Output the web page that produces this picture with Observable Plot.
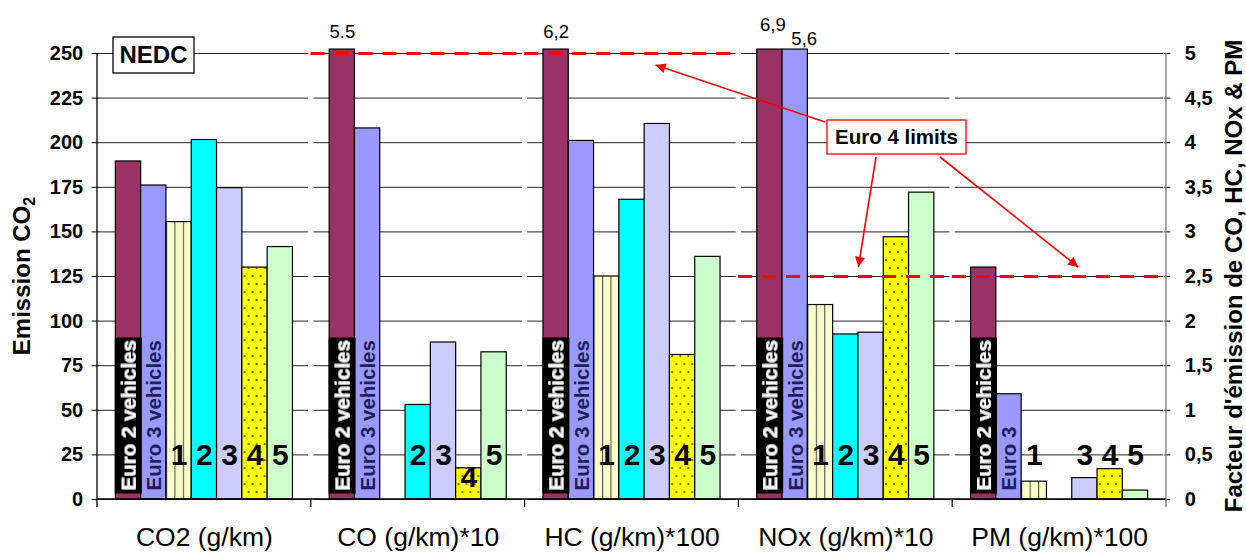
<!DOCTYPE html>
<html><head><meta charset="utf-8">
<script src="https://cdn.jsdelivr.net/npm/d3@7"></script>
<script src="https://cdn.jsdelivr.net/npm/@observablehq/plot@0.6"></script>
<style>
html,body{margin:0;padding:0;background:#fff;overflow:hidden;}
#chart svg{display:block;}
</style></head><body>
<svg width="0" height="0" style="position:absolute">
<defs>
  <pattern id="stripes" patternUnits="objectBoundingBox" patternContentUnits="objectBoundingBox" width="0.33333" height="1">
    <rect x="0" y="0" width="0.33333" height="1" fill="#FFFFCC"/>
    <rect x="0" y="0" width="0.045" height="1" fill="#555"/>
  </pattern>
  <pattern id="dots" patternUnits="userSpaceOnUse" width="8" height="16">
    <rect x="0" y="0" width="8" height="16" fill="#FFFF00"/>
    <circle cx="2" cy="4" r="0.85" fill="#000"/>
    <circle cx="6" cy="12" r="0.85" fill="#000"/>
  </pattern>
  <filter id="blackbg" x="-0.015" y="-0.06" width="1.03" height="1.12">
    <feFlood flood-color="#000"/>
    <feComposite in="SourceGraphic"/>
  </filter>
  <marker id="arrowhead" viewBox="0 0 10 10" refX="10" refY="5" markerWidth="13" markerHeight="10" markerUnits="userSpaceOnUse" orient="auto">
    <path d="M0,0L10,5L0,10z" fill="#FF0000"/>
  </marker>
</defs>
</svg>
<div id="chart"></div>
<script>
// ---------- data ----------
const groups = ["CO2 (g/km)", "CO (g/km)*10", "HC (g/km)*100", "NOx (g/km)*10", "PM (g/km)*100"];
const series = ["Euro 2 vehicles", "Euro 3 vehicles", "1", "2", "3", "4", "5"];
const seriesColors = ["#993366", "#9999FF", "url(#stripes)", "#00FFFF", "#CCCCFF", "url(#dots)", "#CCFFCC"];
// CO2 in g/km (left axis)
const co2 = [189.5, 176, 155.5, 201.5, 174.5, 130, 141.5];
// emission factors (right axis)
const co  = [5.5, 4.16, null, 1.06, 1.76, 0.35, 1.65];
const hc  = [6.2, 4.02, 2.5, 3.36, 4.21, 1.62, 2.72];
const nox = [6.9, 5.6, 2.18, 1.85, 1.87, 2.94, 3.44];
const pm  = [2.6, 1.18, 0.2, null, 0.24, 0.34, 0.1];
// off-scale value labels, in order of appearance
const offScaleText = ["5.5", "6,2", "6,9", "5,6"];
// Euro 4 limits (right axis units)
const limitGroups = ["CO (g/km)*10", "HC (g/km)*100", "NOx (g/km)*10", "PM (g/km)*100"];
const limitValues = [5, 5, 2.5, 2.5];
// axis ticks
const leftTicks = [0, 25, 50, 75, 100, 125, 150, 175, 200, 225, 250];
const leftPerFactor = 50; // 250 on the left axis = 5 on the right axis
// in-bar labels
const euro2Labels = ["Euro 2 vehicles", "Euro 2 vehicles", "Euro 2 vehicles", "Euro 2 vehicles", "Euro 2 vehicles"];
const euro3Labels = ["Euro 3 vehicles", "Euro 3 vehicles", "Euro 3 vehicles", "Euro 3 vehicles", "Euro 3"];

// ---------- tables ----------
const groupValues = [co2, co, hc, nox, pm];
const rows = [];
groups.forEach((g, gi) => {
  const k = gi === 0 ? 1 : leftPerFactor;
  groupValues[gi].forEach((v, si) => {
    if (v != null) rows.push({group: g, series: series[si], value: v, plotValue: v * k});
  });
});
const yCap = 252.2; // off-scale bars stop just above the frame
const over = rows.filter(d => d.plotValue > 250).map((d, i) => ({...d, text: offScaleText[i]}));
const numRows = rows.filter(d => series.indexOf(d.series) >= 2);
const isLow = d => d.group === groups[1] && d.series === "4";
const limits = limitGroups.map((g, i) => ({group: g, limit: limitValues[i]}));
const euro2Rows = groups.map((g, i) => ({group: g, series: series[0], text: euro2Labels[i]}));
const euro3Rows = groups.map((g, i) => ({group: g, series: series[1], text: euro3Labels[i]}));

const FONT = "'Liberation Sans', Arial, Helvetica, sans-serif";
const W = 1246, H = 554, ML = 97, MR = 80, MT = 53, MB = 55;

const chart = Plot.plot({
  width: W, height: H,
  marginLeft: ML, marginRight: MR, marginTop: MT, marginBottom: MB,
  style: {fontFamily: FONT, fontSize: "14px", background: "#fff", color: "#000"},
  fx: {domain: groups, paddingInner: 0.025, paddingOuter: 0.0125, round: false, label: null},
  x: {domain: series, paddingInner: 0, paddingOuter: 0.62, round: false, axis: null},
  y: {domain: [0, 250], label: null},
  color: {domain: series, range: seriesColors},
  marks: [
    Plot.gridY(leftTicks, {stroke: "#000", strokeOpacity: 0.85, strokeWidth: 1}),
    Plot.barY(rows, {fx: "group", x: "series", y: d => Math.min(d.plotValue, yCap), fill: "series", stroke: "#000", strokeWidth: 1.2}),
    Plot.ruleY(limits, {fx: "group", y: d => d.limit * leftPerFactor, stroke: "#FF0000", strokeWidth: 3, strokeDasharray: "14,10", insetLeft: -3, insetRight: -3}),
    Plot.text(euro2Rows, {fx: "group", x: "series", text: "text", frameAnchor: "bottom", dy: -9, dx: 7.3, rotate: -90, textAnchor: "start", fill: "#fff", fontSize: 20.5, fontWeight: "bold"}),
    Plot.text(euro3Rows, {fx: "group", x: "series", text: "text", frameAnchor: "bottom", dy: -9, dx: 7.3, rotate: -90, textAnchor: "start", fill: "#1E1E5A", fontSize: 20.5, fontWeight: "bold"}),
    Plot.text(numRows.filter(d => !isLow(d)), {fx: "group", x: "series", text: "series", frameAnchor: "bottom", dy: -35, fontSize: 30, fontWeight: "bold", fill: "#000"}),
    Plot.text(numRows.filter(isLow), {fx: "group", x: "series", text: "series", frameAnchor: "bottom", dy: -13, fontSize: 30, fontWeight: "bold", fill: "#000"}),
    Plot.text(over.filter(d => d.group !== groups[3]), {fx: "group", x: "series", y: () => yCap, text: "text", dy: -17, fontSize: 18.5, fill: "#000"}),
    Plot.text(over.filter(d => d.group === groups[3] && d.series === series[0]), {fx: "group", x: "series", y: () => yCap, text: "text", dy: -24, dx: 3, fontSize: 18.5, fill: "#000"}),
    Plot.text(over.filter(d => d.group === groups[3] && d.series === series[1]), {fx: "group", x: "series", y: () => yCap, text: "text", dy: -10, dx: 9, fontSize: 18.5, fill: "#000"}),
    Plot.axisY(leftTicks, {anchor: "left", tickSize: 8, tickPadding: 9, fontSize: 20, fontWeight: "bold", label: null}),
    Plot.axisY(leftTicks, {anchor: "right", tickSize: 6, tickPadding: 15, fontSize: 20, fontWeight: "bold", label: null,
      tickFormat: d => String(d / leftPerFactor).replace(".", ",")}),
    Plot.axisFx({anchor: "bottom", tickSize: 0, tickPadding: 28, fontSize: 26.5, label: null})
  ]
});
document.getElementById("chart").append(chart);

// ---------- decorations ----------
const svg = d3.select(chart);
const y = chart.scale("y");
const y0 = y.apply(0), yTop = y.apply(250);
const x0 = ML, x1 = W - MR;
const bounds = d3.range(groups.length + 1).map(i => x0 + i * (x1 - x0) / groups.length);

// black background behind the "Euro 2 vehicles" labels
svg.selectAll("text").filter(function() { return this.textContent === "Euro 2 vehicles"; })
   .attr("filter", "url(#blackbg)");

const deco = svg.append("g").attr("font-family", FONT);
deco.append("line").attr("x1", x0).attr("x2", x1).attr("y1", y0).attr("y2", y0).attr("stroke", "#000").attr("stroke-width", 1.3);
bounds.slice(1, -1).forEach(b => deco.append("line").attr("x1", b).attr("x2", b).attr("y1", y0).attr("y2", y0 + 8).attr("stroke", "#000").attr("stroke-width", 1.2));
deco.append("line").attr("x1", x0).attr("x2", x0).attr("y1", yTop).attr("y2", y0 + 8).attr("stroke", "#000").attr("stroke-width", 1.3);
deco.append("line").attr("x1", x1).attr("x2", x1).attr("y1", yTop).attr("y2", y0 + 8).attr("stroke", "#777").attr("stroke-width", 1.3);

// NEDC box
deco.append("rect").attr("x", x0 + 16).attr("y", yTop - 16).attr("width", 81).attr("height", 36)
  .attr("fill", "#fff").attr("stroke", "#000").attr("stroke-width", 1.3);
deco.append("text").attr("x", x0 + 56.5).attr("y", yTop + 2).attr("dy", "0.35em").attr("text-anchor", "middle")
  .attr("font-size", 24).attr("font-weight", "bold").text("NEDC");

// axis titles
const yMid = (y0 + yTop) / 2;
const lt = deco.append("text").attr("transform", `translate(22,${yMid}) rotate(-90)`).attr("dy", "0.35em")
  .attr("text-anchor", "middle").attr("font-size", 24).attr("font-weight", "bold");
lt.append("tspan").text("Emission CO");
lt.append("tspan").attr("font-size", 16).attr("dy", "0.3em").text("2");
deco.append("text").attr("transform", `translate(1234,${yMid}) rotate(-90)`).attr("dy", "0.35em")
  .attr("text-anchor", "middle").attr("font-size", 24).attr("font-weight", "bold")
  .text("Facteur d'émission de CO, HC, NOx & PM");

// Euro 4 limits callout
const yHi = y.apply(limitValues[0] * leftPerFactor), yLo = y.apply(limitValues[2] * leftPerFactor);
const arrows = [
  [825, 122, bounds[2] + 131, yHi + 12],
  [876, 157, bounds[3] + 120, yLo - 9],
  [940, 157, bounds[4] + 126, yLo - 9]
];
arrows.forEach(([ax, ay, bx, by]) => deco.append("line").attr("x1", ax).attr("y1", ay).attr("x2", bx).attr("y2", by)
  .attr("stroke", "#FF0000").attr("stroke-width", 1.6).attr("marker-end", "url(#arrowhead)"));
deco.append("rect").attr("x", 827).attr("y", 120).attr("width", 139).attr("height", 34)
  .attr("fill", "#fff").attr("stroke", "#FF0000").attr("stroke-width", 1.3);
deco.append("text").attr("x", 896.5).attr("y", 137).attr("dy", "0.35em").attr("text-anchor", "middle")
  .attr("font-size", 20.5).attr("font-weight", "bold").text("Euro 4 limits");
</script>
</body></html>
